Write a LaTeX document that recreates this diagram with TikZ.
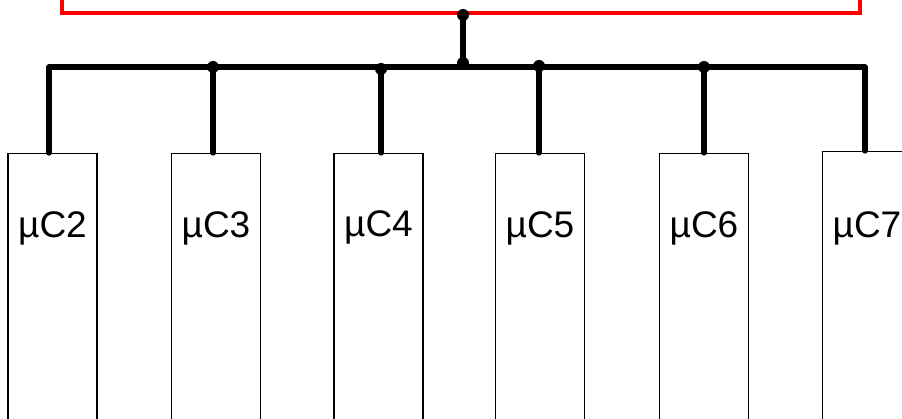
\documentclass[tikz,border=0pt]{standalone}
\usepackage{fontspec}
\setmainfont{Liberation Sans}
\usetikzlibrary{positioning}
\tikzset{
	mcu/.style={draw, line width=1.5pt, minimum width=89pt, minimum height=320pt, anchor=north, inner sep=0pt},
	mcutext/.style={font=\fontsize{37}{44}\selectfont, inner sep=0pt, anchor=base},
	hubbox/.style={draw=red, line width=4pt, minimum width=798pt, minimum height=60pt, inner sep=0pt},
	bus/.style={line width=5.3pt, line cap=round, line join=round},
	tap/.style={circle, fill=black, inner sep=0pt, minimum size=12pt},
}

\begin{document}
\begin{tikzpicture}[x=1pt,y=-1pt]
			%%%%% START %%%%%
			\useasboundingbox (0,0) rectangle (902,419);
			
			\node[hubbox] (hub) at (461,-17) {};
			
			\node[mcu] (mc2) at (52.5,153) {};
			\node[mcu] (mc3) at (216,153) {};
			\node[mcu] (mc4) at (378.5,153) {};
			\node[mcu] (mc5) at (540,153) {};
			\node[mcu] (mc6) at (704,153) {};
			\node[mcu] (mc7) at (867,151) {};
			
			\node[mcutext] (t2) at ([yshift=-85pt]mc2.north) {µC2};
			\node[mcutext] (t3) at ([yshift=-85pt]mc3.north) {µC3};
			\node[mcutext] (t4) at ([yshift=-84pt]mc4.north) {µC4};
			\node[mcutext] (t5) at ([yshift=-85pt]mc5.north) {µC5};
			\node[mcutext] (t6) at ([yshift=-85pt]mc6.north) {µC6};
			\node[mcutext] (t7) at ([yshift=-87pt]mc7.north) {µC7};
			
			% bus
			\coordinate (b2) at (49,67);
			\coordinate (b7) at (865,67);
			\node[tap] (d0) at ([xshift=2pt]hub.south) {};
			\node[tap] (d1) at (463,63) {};
			\node[tap] (d3) at (213,67) {};
			\node[tap] (d4) at (381,69) {};
			\node[tap] (d5) at (539,66) {};
			\node[tap] (d6) at (704,67) {};
			
			\draw[bus] (b2 |- mc2.north) -- (b2) -- (b7) -- (b7 |- mc7.north);
			\draw[bus] (d0.center) -- (d1.center);
			\draw[bus] (d3.center) -- (d3 |- mc3.north);
			\draw[bus] (d4.center) -- (d4 |- mc4.north);
			\draw[bus] (d5.center) -- (d5 |- mc5.north);
			\draw[bus] (d6.center) -- (d6 |- mc6.north);
			
			%%%%% END %%%%%
\end{tikzpicture}
\end{document}
